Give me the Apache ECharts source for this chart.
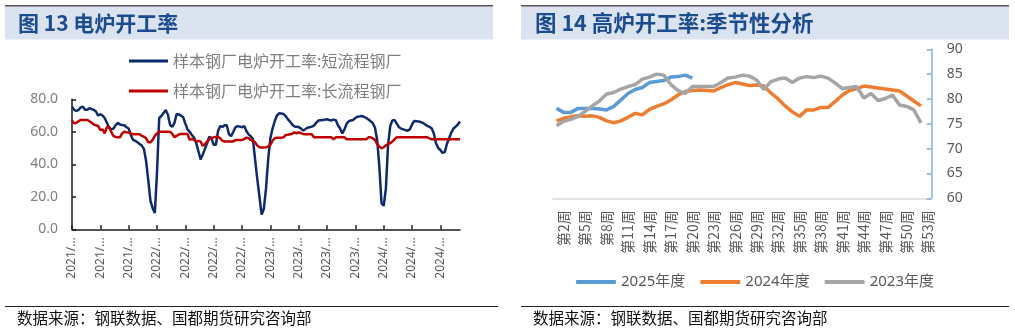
<!DOCTYPE html>
<html>
<head>
<meta charset="utf-8">
<script src="https://cdn.jsdelivr.net/npm/echarts@6/dist/echarts.min.js"></script>
<style>
html,body{margin:0;padding:0;background:#fff;}
#chart{width:1015px;height:331px;}
</style>
</head>
<body>
<div id="chart"></div>
<script>
// ---------- Figure 13 : EAF utilisation (weekly) ----------
const weeks2021 = ['5/21','5/28','6/4','6/11','6/18','6/25','7/2','7/9','7/16','7/23','7/30','8/6','8/13','8/20','8/27','9/3','9/10','9/17','9/24','10/1','10/8','10/15','10/22','10/29','11/5','11/12','11/19','11/26','12/3','12/10','12/17','12/24','12/31'];
const weeks2022 = ['1/7','1/14','1/21','1/28','2/4','2/11','2/18','2/25','3/4','3/11','3/18','3/25','4/1','4/8','4/15','4/22','4/29','5/6','5/13','5/20','5/27','6/3','6/10','6/17','6/24','7/1','7/8','7/15','7/22','7/29','8/5','8/12','8/19','8/26','9/2','9/9','9/16','9/23','9/30','10/7','10/14','10/21','10/28','11/4','11/11','11/18','11/25','12/2','12/9','12/16','12/23','12/30'];
const weeks2023 = ['1/6','1/13','1/20','1/27','2/3','2/10','2/17','2/24','3/3','3/10','3/17','3/24','3/31','4/7','4/14','4/21','4/28','5/5','5/12','5/19','5/26','6/2','6/9','6/16','6/23','6/30','7/7','7/14','7/21','7/28','8/4','8/11','8/18','8/25','9/1','9/8','9/15','9/22','9/29','10/6','10/13','10/20','10/27','11/3','11/10','11/17','11/24','12/1','12/8','12/15','12/22','12/29'];
const weeks2024 = ['1/5','1/12','1/19','1/26','2/2','2/9','2/16','2/23','3/1','3/8','3/15','3/22','3/29','4/5','4/12','4/19','4/26','5/3','5/10','5/17','5/24','5/31','6/7','6/14','6/21','6/28','7/5','7/12','7/19','7/26','8/2','8/9','8/16','8/23','8/30','9/6','9/13','9/20','9/27','10/4','10/11','10/18'];

const eafShortName = '样本钢厂电炉开工率:短流程钢厂';
const eafLongName  = '样本钢厂电炉开工率:长流程钢厂';

const eafShort = [
 75.5,73.5,72.8,73.5,75,75.5,73.5,73.5,74.5,74,
 73.5,72.5,70,70.8,70,68.5,65.5,62.5,61.5,62,
 64,65.5,64.5,64.2,64,62.8,62,58,55,54.5,
 53.5,52.5,51.5,49.5,42,30,17.5,13,10,35,
 68.5,69.7,71.5,73.4,70.5,64.2,63,65.5,71,70.7,
 70,69,65,61.5,60,58,56.5,53,48,43,
 46,49.5,53,57,56,52,52,60.5,63.5,63,
 64,64,58.5,57.3,60,62.8,63.5,63.2,62.8,63.6,
 60.5,58.4,57.3,55.5,43,31,20,9,12.5,25,
 43,56,62,66.5,70,71.4,71.3,71,69.7,67.8,
 66.3,64.5,63.3,63.1,62.9,62,60.8,61.6,62.5,62.8,
 63.2,63.8,65.5,66.9,67.1,67.3,67.5,67.7,67.2,67,
 67.5,67.2,64,62,59,61.5,65,66.5,67,67.3,
 68.5,69.3,69.5,69.7,69.2,68.5,67.5,66.5,65.3,62.5,
 55,38.6,16,14.5,25,52,63.5,67,67.2,65,
 62.8,62,61.5,61,60.7,61.5,64.5,66.7,66.5,66.3,
 66,65.5,64.5,63.6,63,62.2,59,53,50,48.8,
 47,47.5,52.5,56,59.5,62,63.2,64.5,66.3
];
const eafLong = [
 67,65.2,65.5,66.5,67.3,67.3,67.3,67.3,66.5,65.6,
 64.5,64,63.6,61,61.5,59,62.8,63.2,60,57.5,
 56.8,56.6,56.6,59,60,59.7,59.5,59,58.5,58.5,
 58.5,58.5,57.5,57,56,53.5,53.5,55,57.5,59,
 60,60,60,60,60,60,58.7,56.6,57.5,58.3,
 58.7,58.7,58.7,58.7,55,55.6,55,54,54.4,54,
 51.3,52.5,54,55.4,56.2,56.6,56.8,57,56,54.5,
 54,54,54,54,54,55,55,55,55,55.5,
 56.4,56,55,54.4,53.5,51.5,50.5,50.3,50.4,50.5,
 51,52,54.5,56,56.4,56.4,56.4,56.6,58,58.2,
 58.5,58.8,59.7,59,59.7,59.2,58.7,58.5,58.5,58.5,
 58.5,56.6,56.6,56.6,56.6,56.6,56.6,56.6,56.6,56.6,
 55.4,56.6,56.6,56.6,56.6,56.6,55.4,55.4,55.4,55.4,
 55.4,55.4,55.4,55.4,55.4,55.4,56.6,56.6,56,55,
 52.5,51,49.8,50.5,51.5,52.5,53,54,55.5,56.6,
 56.6,56.6,56.6,56.6,56.6,56.6,56.6,56.6,56.6,56.6,
 56.6,56.6,56.6,56.6,56,55.4,55.4,55.4,55.4,55.4,
 55.4,55.4,55.4,55.4,55.4,55.4,55.4,55.4,55.4
];

// ---------- Figure 14 : BF utilisation, seasonal ----------
const weekCats = ['第1周','第2周','第3周','第4周','第5周','第6周','第7周','第8周','第9周','第10周',
 '第11周','第12周','第13周','第14周','第15周','第16周','第17周','第18周','第19周','第20周',
 '第21周','第22周','第23周','第24周','第25周','第26周','第27周','第28周','第29周','第30周',
 '第31周','第32周','第33周','第34周','第35周','第36周','第37周','第38周','第39周','第40周',
 '第41周','第42周','第43周','第44周','第45周','第46周','第47周','第48周','第49周','第50周',
 '第51周','第52周','第53周'];
const bfNames = ['2025年度','2024年度','2023年度'];
const bf2025 = [78.1,77.3,77.3,78.1,78.1,78.1,78.0,77.8,78.5,79.8,
 81.1,81.9,82.3,83.3,83.5,83.7,84.4,84.5,84.8,84.2];
const bf2024 = [75.6,76.1,76.4,76.6,76.5,76.6,76.3,75.6,75.2,75.6,
 76.3,77.1,76.8,77.9,78.5,79.0,79.8,80.8,81.5,81.7,
 81.8,81.7,81.6,82.3,82.9,83.3,83.0,82.7,82.8,82.6,
 81.2,80.0,78.6,77.4,76.5,77.8,77.8,78.3,78.3,79.5,
 80.8,81.7,82.1,82.6,82.4,82.2,82.0,81.8,81.6,80.6,
 79.6,78.6];
const bf2023 = [74.6,75.5,75.9,76.5,77.5,78.6,79.6,81.0,81.3,82.0,
 82.5,82.9,84.0,84.4,85.0,84.8,82.9,81.7,81.1,82.5,
 82.5,82.5,82.5,83.3,84.2,84.4,84.8,84.6,83.8,81.9,
 83.5,84.0,84.2,83.3,84.2,84.5,84.3,84.6,84.2,83.2,
 82.1,82.3,82.5,80.2,81.1,79.7,80.1,80.8,78.8,78.5,
 77.8,75.2];

const titleLeft = '图 13 电炉开工率';
const titleRight = '图 14 高炉开工率:季节性分析';
const sourceText = '数据来源：钢联数据、国都期货研究咨询部';

const eafDates = [].concat(
  weeks2021.map(d => '2021/' + d),
  weeks2022.map(d => '2022/' + d),
  weeks2023.map(d => '2023/' + d),
  weeks2024.map(d => '2024/' + d)
);

const FONT = "'Noto Sans','Noto Sans CJK SC',sans-serif";
const CJK = "'Noto Sans CJK SC',sans-serif";
const titleBlue = '#1B4C8E';
const barFill = '#DCE3F0';

const chart = echarts.init(document.getElementById('chart'), null, {renderer: 'canvas'});

const option = {
  animation: false,
  backgroundColor: '#ffffff',
  textStyle: {fontFamily: FONT},
  graphic: [
    {type: 'rect', shape: {x: 5, y: 6.5, width: 488, height: 33}, style: {fill: barFill}, silent: true},
    {type: 'line', shape: {x1: 5, y1: 5.8, x2: 493, y2: 5.8}, style: {stroke: '#555555', lineWidth: 1.5}, silent: true},
    {type: 'text', x: 18, y: 23, style: {text: titleLeft, fontSize: 21, fontWeight: 'bold', fontFamily: CJK, fill: titleBlue, verticalAlign: 'middle'}, silent: true},
    {type: 'rect', shape: {x: 521, y: 6.5, width: 488, height: 33}, style: {fill: barFill}, silent: true},
    {type: 'line', shape: {x1: 521, y1: 5.8, x2: 1009, y2: 5.8}, style: {stroke: '#555555', lineWidth: 1.5}, silent: true},
    {type: 'text', x: 535, y: 23, style: {text: titleRight, fontSize: 21.5, fontWeight: 'bold', fontFamily: CJK, fill: titleBlue, verticalAlign: 'middle'}, silent: true},
    {type: 'line', shape: {x1: 5, y1: 306.5, x2: 498, y2: 306.5}, style: {stroke: '#222222', lineWidth: 1}, silent: true},
    {type: 'line', shape: {x1: 521, y1: 306.5, x2: 1009, y2: 306.5}, style: {stroke: '#222222', lineWidth: 1}, silent: true},
    {type: 'text', x: 17, y: 318.5, style: {text: sourceText, fontSize: 15.5, fontFamily: CJK, fill: '#111111', verticalAlign: 'middle'}, silent: true},
    {type: 'text', x: 533, y: 318.5, style: {text: sourceText, fontSize: 15.5, fontFamily: CJK, fill: '#111111', verticalAlign: 'middle'}, silent: true}
  ],
  legend: [
    {
      orient: 'vertical', left: 124, top: 48, itemWidth: 39, itemHeight: 3, itemGap: 14,
      icon: 'rect', selectedMode: false,
      textStyle: {fontSize: 16, color: '#7F7F7F', fontFamily: CJK},
      data: [eafShortName, eafLongName]
    },
    {
      orient: 'horizontal', left: 571, top: 269.5, itemWidth: 40, itemHeight: 4, itemGap: 15,
      icon: 'roundRect', selectedMode: false,
      textStyle: {fontSize: 15, color: '#595959', fontFamily: FONT},
      data: bfNames
    }
  ],
  grid: [
    {left: 72, top: 99.3, width: 388, height: 130},
    {left: 553, top: 49.3, width: 378.7, height: 149}
  ],
  xAxis: [
    {
      type: 'category', gridIndex: 0, data: eafDates, boundaryGap: false,
      axisLine: {lineStyle: {color: '#1a1a1a', width: 1.5}},
      axisTick: {show: true, inside: true, length: 4, interval: 12, lineStyle: {color: '#1a1a1a', width: 1.5}},
      axisLabel: {interval: 12, rotate: 90, margin: 8, fontSize: 12, color: '#595959', fontFamily: FONT,
        formatter: v => v.slice(0, 5) + '…'},
      splitLine: {show: false}
    },
    {
      type: 'category', gridIndex: 1, data: weekCats, boundaryGap: true,
      axisLine: {lineStyle: {color: '#D9D9D9', width: 1.5}},
      axisTick: {show: false},
      axisLabel: {interval: (i) => i % 3 === 1, rotate: 90, margin: 12, fontSize: 14, color: '#595959', fontFamily: CJK},
      splitLine: {show: false}
    }
  ],
  yAxis: [
    {
      type: 'value', gridIndex: 0, min: 0, max: 80, interval: 20,
      axisLine: {show: true, lineStyle: {color: '#1a1a1a', width: 1.5}},
      axisTick: {show: true, inside: true, length: 4, lineStyle: {color: '#1a1a1a', width: 1.5}},
      axisLabel: {fontSize: 14, color: '#7F7F7F', margin: 14, formatter: v => v.toFixed(1), fontFamily: FONT},
      splitLine: {show: false}
    },
    {
      type: 'value', gridIndex: 1, position: 'right', min: 60, max: 90, interval: 5,
      axisLine: {show: true, lineStyle: {color: '#7FB0E0', width: 1.5}},
      axisTick: {show: true, inside: true, length: 5, lineStyle: {color: '#7FB0E0', width: 1.5}},
      axisLabel: {fontSize: 14, color: '#595959', margin: 15, fontFamily: FONT},
      splitLine: {show: false}
    }
  ],
  series: [
    {name: eafShortName, type: 'line', xAxisIndex: 0, yAxisIndex: 0, data: eafShort, symbol: 'none',
      lineStyle: {color: '#0D2A6B', width: 2.5}, itemStyle: {color: '#0D2A6B'}},
    {name: eafLongName, type: 'line', xAxisIndex: 0, yAxisIndex: 0, data: eafLong, symbol: 'none',
      lineStyle: {color: '#C00000', width: 2.5}, itemStyle: {color: '#C00000'}},
    {name: bfNames[0], type: 'line', xAxisIndex: 1, yAxisIndex: 1, data: bf2025, symbol: 'none',
      lineStyle: {color: '#5B9BD5', width: 3.5}, itemStyle: {color: '#5B9BD5'}},
    {name: bfNames[1], type: 'line', xAxisIndex: 1, yAxisIndex: 1, data: bf2024, symbol: 'none',
      lineStyle: {color: '#ED7D31', width: 3.5}, itemStyle: {color: '#ED7D31'}},
    {name: bfNames[2], type: 'line', xAxisIndex: 1, yAxisIndex: 1, data: bf2023, symbol: 'none',
      lineStyle: {color: '#A5A5A5', width: 3.5}, itemStyle: {color: '#A5A5A5'}}
  ]
};
chart.setOption(option);
</script>
</body>
</html>
